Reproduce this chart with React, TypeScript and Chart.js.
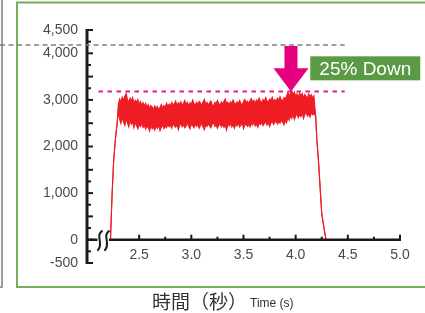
import React, { useEffect, useRef } from "react";
import { Chart, registerables } from "chart.js";

Chart.register(...registerables);

// Time axis (s) of the measured load curve
const times = [
  2.225, 2.241, 2.256, 2.273, 2.289,
  2.3, 2.3125, 2.325, 2.3375, 2.35, 2.3625, 2.375, 2.3875, 2.4, 2.4125,
  2.425, 2.4375, 2.45, 2.4625, 2.475, 2.4875, 2.5, 2.5125, 2.525, 2.5375,
  2.55, 2.5625, 2.575, 2.5875, 2.6, 2.6125, 2.625, 2.6375, 2.65, 2.6625,
  2.675, 2.6875, 2.7, 2.7125, 2.725, 2.7375, 2.75, 2.7625, 2.775, 2.7875,
  2.8, 2.8125, 2.825, 2.8375, 2.85, 2.8625, 2.875, 2.8875, 2.9, 2.9125,
  2.925, 2.9375, 2.95, 2.9625, 2.975, 2.9875, 3.0, 3.0125, 3.025, 3.0375,
  3.05, 3.0625, 3.075, 3.0875, 3.1, 3.1125, 3.125, 3.1375, 3.15, 3.1625,
  3.175, 3.1875, 3.2, 3.2125, 3.225, 3.2375, 3.25, 3.2625, 3.275, 3.2875,
  3.3, 3.3125, 3.325, 3.3375, 3.35, 3.3625, 3.375, 3.3875, 3.4, 3.4125,
  3.425, 3.4375, 3.45, 3.4625, 3.475, 3.4875, 3.5, 3.5125, 3.525, 3.5375,
  3.55, 3.5625, 3.575, 3.5875, 3.6, 3.6125, 3.625, 3.6375, 3.65, 3.6625,
  3.675, 3.6875, 3.7, 3.7125, 3.725, 3.7375, 3.75, 3.7625, 3.775, 3.7875,
  3.8, 3.8125, 3.825, 3.8375, 3.85, 3.8625, 3.875, 3.8875, 3.9, 3.9125,
  3.925, 3.9375, 3.95, 3.9625, 3.975, 3.9875, 4.0, 4.0125, 4.025, 4.0375,
  4.05, 4.0625, 4.075, 4.0875, 4.1, 4.1125, 4.125, 4.1375, 4.15, 4.1625,
  4.175,
  4.192, 4.203, 4.218, 4.234, 4.25, 4.268, 4.29,
];

// Upper edge of the noisy signal band
const upperValues = [
  0, 1000, 1710, 2175, 2495,
  2900, 3020, 2960, 3060, 2990, 3080, 3140, 3010, 2950, 3040,
  2980, 3050, 2930, 2990, 2950, 3010, 2900, 2970, 2880, 2940,
  2870, 2930, 2840, 2900, 2810, 2880, 2850, 2790, 2870, 2820,
  2860, 2780, 2840, 2900, 2820, 2880, 2850, 2930, 2870, 2910,
  2860, 2950, 2890, 2920, 2980, 2870, 2940, 2900, 2960, 2880,
  2930, 2990, 2900, 2950, 2870, 2940, 2910, 3000, 2920, 2880,
  2950, 2900, 2970, 2930, 2880, 2960, 3010, 2910, 2950, 2890,
  2940, 2980, 2900, 2860, 2950, 2920, 2990, 2930, 2880, 2960,
  2910, 2970, 3020, 2920, 2950, 2890, 2960, 2930, 3000, 2940,
  2900, 2960, 2920, 2990, 2930, 2880, 2970, 3010, 2940, 2970,
  2920, 2980, 3030, 2950, 2990, 2930, 3000, 2960, 3040, 2970,
  2940, 3010, 2970, 3050, 2980, 2950, 3020, 2990, 3060, 2970,
  3010, 2960, 3040, 2990, 3070, 3000, 2970, 3050, 3020, 3080,
  3160, 3090, 3140, 3200, 3110, 3170, 3080, 3130, 3060, 3150,
  3090, 3140, 3050, 3120, 3080, 3030, 3130, 3070, 3110, 3040,
  3090,
  2650, 2140, 1710, 1130, 560, 300, 0,
];

// Lower edge of the noisy signal band
const lowerValues = [
  0, 1000, 1710, 2175, 2495,
  2760, 2580, 2490, 2620, 2530, 2450, 2600, 2510, 2420, 2550,
  2480, 2530, 2400, 2510, 2450, 2380, 2470, 2430, 2500, 2410,
  2450, 2370, 2440, 2400, 2330, 2450, 2380, 2420, 2350, 2440,
  2390, 2460, 2340, 2410, 2470, 2380, 2440, 2400, 2480, 2420,
  2460, 2390, 2500, 2440, 2410, 2470, 2360, 2450, 2490, 2420,
  2470, 2400, 2440, 2510, 2430, 2380, 2480, 2450, 2400, 2490,
  2430, 2470, 2390, 2450, 2500, 2420, 2360, 2460, 2430, 2490,
  2440, 2400, 2480, 2520, 2430, 2460, 2390, 2450, 2500, 2420,
  2470, 2410, 2450, 2350, 2480, 2440, 2500, 2420, 2460, 2390,
  2480, 2440, 2510, 2420, 2460, 2500, 2380, 2450, 2490, 2430,
  2470, 2420, 2500, 2460, 2530, 2440, 2480, 2410, 2500, 2470,
  2520, 2450, 2490, 2540, 2460, 2510, 2430, 2500, 2550, 2470,
  2510, 2560, 2480, 2530, 2500, 2570, 2520, 2460, 2550, 2510,
  2620, 2560, 2660, 2600, 2690, 2580, 2650, 2710, 2620, 2680,
  2640, 2720, 2600, 2680, 2740, 2650, 2700, 2630, 2720, 2680,
  2700,
  2650, 2140, 1710, 1130, 560, 300, 0,
];

const yTickValues = [-500, 0, 1000, 2000, 3000, 4000, 4500];
const xTickValues = [2.5, 3.0, 3.5, 4.0, 4.5, 5.0];

const previousPeak = 4180; // grey dashed reference
const currentPeak = 3180; // pink dashed reference (25% lower)
const arrowTime = 3.955;
const labelText = "25% Down";
const titleJa = "時間（秒）";
const titleEn = "Time (s)";

const RED = "#ee1d24";
const PINK = "#e4007f";

const decorPlugin = {
  id: "decor",
  beforeDraw(chart: any) {
    const ctx = chart.ctx;
    ctx.save();
    ctx.strokeStyle = "#9b9b9b";
    ctx.lineWidth = 2;
    ctx.beginPath();
    ctx.moveTo(2, 0);
    ctx.lineTo(2, 287);
    ctx.lineTo(0, 287);
    ctx.stroke();
    ctx.strokeStyle = "#72ae5c";
    ctx.lineWidth = 2;
    ctx.strokeRect(17, 2.5, 440, 284.5);
    ctx.restore();
  },
  afterDraw(chart: any) {
    const ctx = chart.ctx;
    const xs = chart.scales.x;
    const ys = chart.scales.y;
    const ax = chart.chartArea.left;
    const y0 = ys.getPixelForValue(0);
    ctx.save();
    ctx.strokeStyle = "#1a1a1a";
    ctx.lineCap = "butt";
    // y axis
    ctx.lineWidth = 3;
    ctx.beginPath();
    ctx.moveTo(ax, ys.getPixelForValue(4500) - 1);
    ctx.lineTo(ax, ys.getPixelForValue(-500) + 1);
    ctx.stroke();
    ctx.lineWidth = 2;
    for (let v = -500; v <= 4500; v += 250) {
      const py = ys.getPixelForValue(v);
      const len = v % 500 === 0 ? 6 : 4;
      ctx.beginPath();
      ctx.moveTo(ax, py);
      ctx.lineTo(ax + len, py);
      ctx.stroke();
    }
    // x axis with break
    ctx.lineWidth = 2.5;
    ctx.beginPath();
    ctx.moveTo(ax, y0);
    ctx.lineTo(xs.getPixelForValue(2.1), y0);
    ctx.moveTo(xs.getPixelForValue(2.21), y0);
    ctx.lineTo(xs.getPixelForValue(5.0) + 1, y0);
    ctx.stroke();
    ctx.lineWidth = 2;
    for (let t = 2.5; t <= 5.001; t += 0.25) {
      const px = xs.getPixelForValue(t);
      const major = Math.abs(t * 2 - Math.round(t * 2)) < 1e-6;
      const len = major ? 5 : 3;
      ctx.beginPath();
      ctx.moveTo(px, y0);
      ctx.lineTo(px, y0 - len);
      ctx.stroke();
    }
    // break squiggles
    ctx.lineWidth = 2;
    [2.12, 2.187].forEach((t) => {
      const px = xs.getPixelForValue(t);
      ctx.beginPath();
      ctx.moveTo(px + 3, y0 - 9);
      ctx.bezierCurveTo(px - 5, y0 - 4, px + 5, y0 + 4, px - 2, y0 + 11);
      ctx.stroke();
    });
    // dashed reference lines
    const endX = xs.getPixelForValue(4.47);
    ctx.setLineDash([5, 3.5]);
    ctx.strokeStyle = "#7f7f7f";
    ctx.lineWidth = 1.5;
    const gy = ys.getPixelForValue(previousPeak);
    ctx.beginPath();
    ctx.moveTo(0, gy);
    ctx.lineTo(endX, gy);
    ctx.stroke();
    ctx.setLineDash([4.5, 4.5]);
    ctx.strokeStyle = "#e8168a";
    ctx.lineWidth = 2;
    const py2 = ys.getPixelForValue(currentPeak);
    ctx.beginPath();
    ctx.moveTo(xs.getPixelForValue(2.11), py2);
    ctx.lineTo(endX, py2);
    ctx.stroke();
    ctx.setLineDash([]);
    // arrow
    const tx = xs.getPixelForValue(arrowTime);
    const topY = gy + 1;
    const baseY = ys.getPixelForValue((previousPeak + currentPeak) / 2);
    ctx.fillStyle = PINK;
    ctx.beginPath();
    ctx.moveTo(tx - 6.5, topY);
    ctx.lineTo(tx + 6.5, topY);
    ctx.lineTo(tx + 6.5, baseY);
    ctx.lineTo(tx + 17.5, baseY);
    ctx.lineTo(tx, py2);
    ctx.lineTo(tx - 17.5, baseY);
    ctx.lineTo(tx - 6.5, baseY);
    ctx.closePath();
    ctx.fill();
    // label box
    const bx = xs.getPixelForValue(4.14);
    const by = ys.getPixelForValue(3935);
    const bh = ys.getPixelForValue(3420) - by;
    const bw = 110;
    ctx.fillStyle = "#5a9a44";
    ctx.fillRect(bx, by, bw, bh);
    ctx.fillStyle = "#ffffff";
    ctx.font = '19px "Liberation Sans", Arial, sans-serif';
    ctx.textAlign = "center";
    ctx.textBaseline = "middle";
    ctx.fillText(labelText, bx + bw / 2, by + bh / 2 + 1);
    // axis title
    ctx.fillStyle = "#333333";
    ctx.textAlign = "left";
    ctx.font = '19px "Noto Sans CJK JP", sans-serif';
    const tx0 = ax + 65;
    ctx.fillText(titleJa, tx0, 302);
    const w = ctx.measureText(titleJa).width;
    ctx.font = '12px "Liberation Sans", Arial, sans-serif';
    ctx.fillText(titleEn, tx0 + w + 3, 304);
    ctx.restore();
  },
};

export default function App() {
  const ref = useRef<HTMLCanvasElement | null>(null);
  useEffect(() => {
    if (!ref.current) return;
    const upper = times.map((t, i) => ({ x: t, y: upperValues[i] }));
    const lower = times.map((t, i) => ({ x: t, y: lowerValues[i] }));
    const tickFont = { family: '"Liberation Sans", Arial, sans-serif', size: 14 };
    const chart = new Chart(ref.current, {
      type: "line",
      data: {
        datasets: [
          {
            data: lower,
            borderColor: RED,
            backgroundColor: RED,
            borderWidth: 1.1,
            pointRadius: 0,
            fill: false,
            tension: 0,
          },
          {
            data: upper,
            borderColor: RED,
            backgroundColor: RED,
            borderWidth: 1.1,
            pointRadius: 0,
            fill: "-1",
            tension: 0,
          },
        ],
      },
      options: {
        animation: false,
        responsive: false,
        devicePixelRatio: 1,
        layout: { padding: { left: 0, right: 25, top: 30, bottom: 50 } },
        plugins: { legend: { display: false }, tooltip: { enabled: false } },
        scales: {
          x: {
            type: "linear",
            position: { y: 0 } as any,
            min: 2.0,
            max: 5.0,
            grid: { display: false, drawTicks: false },
            border: { display: false },
            afterBuildTicks: (s: any) => {
              s.ticks = xTickValues.map((v) => ({ value: v }));
            },
            ticks: {
              autoSkip: false,
              maxRotation: 0,
              padding: 7,
              color: "#4a4a4a",
              font: tickFont,
              callback: (v: any) => Number(v).toFixed(1),
            },
          },
          y: {
            type: "linear",
            min: -500,
            max: 4500,
            grid: { display: false, drawTicks: false },
            border: { display: false },
            afterFit: (s: any) => {
              s.width = 87;
            },
            afterBuildTicks: (s: any) => {
              s.ticks = yTickValues.map((v) => ({ value: v }));
            },
            ticks: {
              autoSkip: false,
              padding: 9,
              color: "#4a4a4a",
              font: tickFont,
              callback: (v: any) => Number(v).toLocaleString("en-US"),
            },
          },
        },
      },
      plugins: [decorPlugin],
    });
    return () => chart.destroy();
  }, []);
  return (
    <div style={{ position: "absolute", left: 0, top: 0, width: 425, height: 313 }}>
      <canvas ref={ref} width={425} height={313} />
    </div>
  );
}
